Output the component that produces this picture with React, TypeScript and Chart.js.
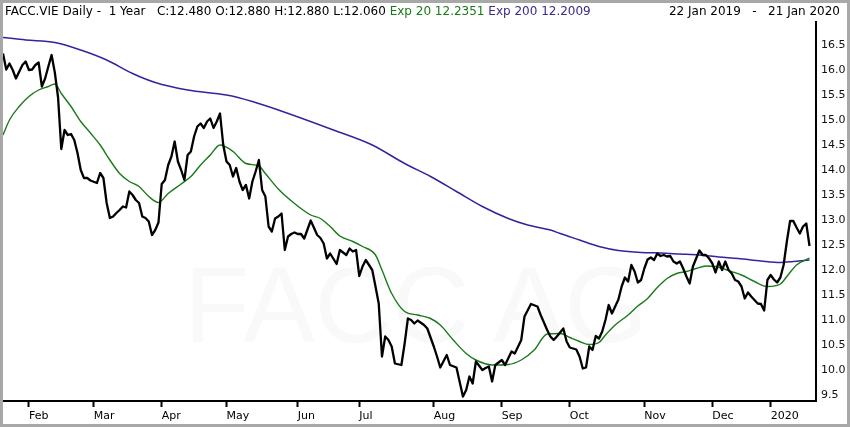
import React, { useEffect, useRef } from 'react';
import { Chart, registerables } from 'chart.js';

Chart.register(...registerables);

// ---- data (trading-day index since 22 Jan 2019) ----
const closeDays = [
  0, 1, 2, 3, 4, 6, 7, 8, 9, 10, 11, 12, 13, 14, 15, 16, 17, 18, 19, 20,
  21, 22, 23, 24, 25, 26, 27, 29, 30, 31, 32, 33, 34, 35, 36, 37, 38, 39, 40, 41,
  42, 43, 44, 45, 46, 47, 48, 49, 50, 51, 52, 53, 54, 55, 56, 57, 58, 59, 60, 61,
  62, 63, 64, 65, 66, 67, 68, 69, 70, 71, 72, 73, 74, 75, 76, 77, 78, 79, 80, 81,
  82, 83, 84, 85, 86, 87, 88, 89, 90, 91, 92, 93, 95, 97, 98, 99, 100, 101, 103, 104,
  106, 107, 108, 109, 110, 111, 112, 114, 115, 116, 117, 118, 119, 120, 121, 123, 124, 125, 126, 127,
  128, 130, 131, 133, 134, 135, 137, 138, 140, 142, 143, 144, 145, 146, 148, 149, 150, 151, 152, 154,
  155, 157, 158, 160, 161, 163, 165, 166, 168, 169, 170, 171, 173, 174, 175, 177, 178, 179, 180, 181,
  182, 183, 184, 185, 186, 187, 188, 189, 190, 191, 192, 193, 194, 195, 196, 197, 198, 199, 200, 201,
  202, 203, 204, 205, 206, 207, 208, 209, 210, 211, 212, 213, 214, 215, 216, 217, 218, 219, 220, 221,
  222, 223, 224, 225, 226, 227, 228, 229, 230, 231, 232, 233, 234, 235, 236, 237, 238, 239, 240, 241,
  242, 243, 244, 245, 246, 247, 248, 249,
];
const closeValues = [
  16.33, 16.01, 16.13, 16.0, 15.83, 16.1, 16.17, 16.0, 16.01, 16.1, 16.15, 15.67, 15.83, 16.07, 16.3, 15.95, 15.45, 14.42, 14.8, 14.7,
  14.72, 14.6, 14.34, 14.0, 13.84, 13.84, 13.79, 13.74, 13.94, 13.84, 13.34, 13.04, 13.07, 13.14, 13.2, 13.27, 13.25, 13.57, 13.5, 13.4,
  13.34, 13.07, 13.04, 12.97, 12.7, 12.8, 12.95, 13.72, 13.8, 14.1, 14.27, 14.57, 14.17, 14.0, 13.8, 14.3, 14.37, 14.67, 14.87, 14.93,
  14.84, 14.97, 15.03, 14.84, 14.97, 15.13, 14.5, 14.17, 14.1, 13.87, 14.04, 13.77, 13.6, 13.7, 13.43, 13.77, 13.97, 14.2, 13.6, 13.47,
  12.87, 12.77, 13.03, 13.07, 13.13, 12.4, 12.67, 12.72, 12.75, 12.72, 12.72, 12.63, 12.99, 12.7, 12.64, 12.53, 12.23, 12.33, 12.12, 12.4,
  12.3, 12.43, 12.37, 12.4, 11.88, 12.07, 12.2, 12.0, 11.67, 11.33, 10.27, 10.67, 10.6, 10.47, 10.13, 10.1, 10.53, 11.03, 11.0, 10.93,
  10.99, 10.9, 10.83, 10.47, 10.27, 10.05, 10.3, 10.1, 10.05, 9.47, 9.6, 9.87, 9.73, 10.17, 10.0, 10.04, 10.07, 9.77, 10.1, 10.2,
  10.1, 10.37, 10.33, 10.6, 11.07, 11.32, 11.27, 11.1, 10.8, 10.67, 10.6, 10.67, 10.83, 10.57, 10.45, 10.41, 10.27, 10.03, 10.05, 10.47,
  10.4, 10.68, 10.63, 10.77, 11.0, 11.3, 11.13, 11.27, 11.41, 11.67, 11.85, 11.77, 12.1, 11.97, 11.75, 11.8, 12.03, 12.21, 12.25, 12.2,
  12.33, 12.28, 12.3, 12.27, 12.28, 12.17, 12.13, 12.17, 12.03, 11.87, 11.73, 12.07, 12.23, 12.39, 12.3, 12.3, 12.23, 12.13, 11.95, 12.17,
  12.0, 12.17, 12.0, 11.93, 11.8, 11.77, 11.67, 11.43, 11.55, 11.47, 11.4, 11.33, 11.32, 11.19, 11.8, 11.9, 11.81, 11.75, 11.85, 12.1,
  12.57, 12.98, 12.98, 12.85, 12.73, 12.87, 12.93, 12.48,
];

const ema20Days = [
  0, 2, 5, 8, 11, 14, 16, 18, 21, 24, 27, 30, 33, 36, 39, 42, 45, 48, 51, 55,
  58, 61, 64, 67, 71, 75, 79, 81, 85, 90, 95, 98, 101, 104, 108, 111, 115, 117, 120, 124,
  128, 132, 135, 139, 143, 146, 151, 156, 160, 164, 168, 172, 175, 178, 181, 184, 186, 189, 193, 196,
  199, 202, 205, 208, 211, 214, 217, 220, 223, 228, 232, 236, 240, 242, 245, 249,
];
const ema20Values = [
  14.7, 15.0, 15.27, 15.47, 15.6, 15.67, 15.72, 15.53, 15.27, 14.97, 14.74, 14.5, 14.2, 13.93, 13.77, 13.67, 13.47, 13.35, 13.53, 13.72,
  13.87, 14.1, 14.3, 14.5, 14.37, 14.13, 14.08, 13.93, 13.62, 13.33, 13.1, 13.03, 12.87, 12.68, 12.57, 12.47, 12.3, 12.0, 11.53, 11.17,
  11.1, 11.03, 10.9, 10.6, 10.33, 10.2, 10.1, 10.11, 10.2, 10.4, 10.72, 10.73, 10.65, 10.57, 10.51, 10.55, 10.7, 10.9, 11.1, 11.28,
  11.43, 11.65, 11.83, 11.93, 11.97, 12.03, 12.08, 12.07, 12.01, 11.9, 11.77, 11.67, 11.72, 11.87, 12.1, 12.2351,
];

const ema200Days = [
  0, 7, 16, 24, 32, 40, 47, 57, 69, 77, 85, 102, 114, 124, 132, 140, 148, 156, 162, 169,
  172, 178, 184, 190, 197, 203, 209, 215, 221, 227, 234, 240, 244, 249,
];
const ema200Values = [
  16.65, 16.6, 16.55, 16.4, 16.2, 15.93, 15.75, 15.6, 15.5, 15.37, 15.2, 14.8, 14.5, 14.13, 13.87, 13.57, 13.27, 13.03, 12.9, 12.8,
  12.73, 12.6, 12.47, 12.39, 12.35, 12.34, 12.32, 12.3, 12.26, 12.23, 12.18, 12.15, 12.17, 12.2009,
];

const monthTickDays = [8, 28, 49, 69, 91, 110, 133, 154, 175, 198, 219, 237];
const monthLabels = ['Feb', 'Mar', 'Apr', 'May', 'Jun', 'Jul', 'Aug', 'Sep', 'Oct', 'Nov', 'Dec', '2020'];
const priceTicks = [9.5, 10.0, 10.5, 11.0, 11.5, 12.0, 12.5, 13.0, 13.5, 14.0, 14.5, 15.0, 15.5, 16.0, 16.5];

const symbol = 'FACC.VIE';
const lastOpen = 12.88;
const lastHigh = 12.88;
const lastLow = 12.06;
const dateRange = '22 Jan 2019   -   21 Jan 2020';
const watermark = 'FACC AG';

const FONT = '"DejaVu Sans", sans-serif';
const GREEN = '#1a7a1a';
const PURPLE = '#3c1f9e';

const toPoints = (days: number[], vals: number[]) => days.map((x, i) => ({ x, y: vals[i] }));

export default function App() {
  const ref = useRef<HTMLCanvasElement | null>(null);

  useEffect(() => {
    if (!ref.current) return;
    const chart = new Chart(ref.current, {
      type: 'line',
      data: {
        datasets: [
          {
            label: 'Close',
            data: toPoints(closeDays, closeValues),
            borderColor: '#000000',
            borderWidth: 2.3,
            pointRadius: 0,
            tension: 0,
            borderJoinStyle: 'round',
          },
          {
            label: 'Exp 20',
            data: toPoints(ema20Days, ema20Values),
            borderColor: GREEN,
            borderWidth: 1.4,
            pointRadius: 0,
            cubicInterpolationMode: 'monotone',
          },
          {
            label: 'Exp 200',
            data: toPoints(ema200Days, ema200Values),
            borderColor: PURPLE,
            borderWidth: 1.5,
            pointRadius: 0,
            cubicInterpolationMode: 'monotone',
          },
        ],
      },
      options: {
        responsive: false,
        animation: false,
        devicePixelRatio: 1,
        layout: { padding: { top: 22, left: 3, right: 0, bottom: 0 } },
        plugins: { legend: { display: false }, tooltip: { enabled: false } },
        events: [],
        scales: {
          x: {
            type: 'linear',
            position: 'bottom',
            min: 0,
            max: 251,
            afterBuildTicks: (scale: any) => {
              scale.ticks = monthTickDays.map((v) => ({ value: v }));
            },
            afterFit: (scale: any) => {
              scale.height = 26;
            },
            grid: {
              drawOnChartArea: false,
              drawTicks: true,
              tickLength: 6,
              tickWidth: 2,
              tickColor: '#000',
            },
            border: { display: true, color: '#000', width: 2 },
            ticks: {
              autoSkip: false,
              maxRotation: 0,
              minRotation: 0,
              align: 'start',
              padding: 3,
              color: '#000',
              font: { family: FONT, size: 11 },
              callback: (value: any) => {
                const i = monthTickDays.indexOf(Number(value));
                return i >= 0 ? monthLabels[i] : '';
              },
            },
          },
          y: {
            type: 'linear',
            position: 'right',
            min: 9.38,
            max: 16.96,
            afterBuildTicks: (scale: any) => {
              scale.ticks = priceTicks.map((v) => ({ value: v }));
            },
            afterFit: (scale: any) => {
              scale.width = 34;
            },
            grid: { drawOnChartArea: false, drawTicks: false },
            border: { display: true, color: '#000', width: 2 },
            ticks: {
              padding: 5,
              color: '#111',
              font: { family: FONT, size: 11 },
              callback: (value: any) => Number(value).toFixed(1),
            },
          },
        },
      },
    } as any);
    return () => chart.destroy();
  }, []);

  const lastClose = closeValues[closeValues.length - 1];
  const ema20Last = ema20Values[ema20Values.length - 1];
  const ema200Last = ema200Values[ema200Values.length - 1];
  const info = `${symbol} Daily -  1 Year   C:${lastClose.toFixed(3)} O:${lastOpen.toFixed(3)} H:${lastHigh.toFixed(3)} L:${lastLow.toFixed(3)} `;

  return (
    <div
      style={{
        position: 'absolute',
        left: 0,
        top: 0,
        width: 850,
        height: 427,
        background: '#ffffff',
        overflow: 'hidden',
      }}
    >
      <div
        style={{
          position: 'absolute',
          left: 184,
          top: 252,
          fontFamily: '"Liberation Sans", Arial, sans-serif',
          fontSize: 107,
          lineHeight: '107px',
          color: '#f9f9f9',
          whiteSpace: 'pre',
        }}
      >
        {watermark}
      </div>
      <canvas
        ref={ref}
        width={850}
        height={427}
        style={{ position: 'absolute', left: 0, top: 0, display: 'block' }}
      />
      <div
        style={{
          position: 'absolute',
          left: 5,
          top: 4,
          fontFamily: FONT,
          fontSize: 12,
          lineHeight: '14px',
          color: '#000',
          whiteSpace: 'pre',
        }}
      >
        <span>{info}</span>
        <span style={{ color: GREEN }}>{`Exp 20 ${ema20Last.toFixed(4)} `}</span>
        <span style={{ color: '#3b2a8a' }}>{`Exp 200 ${ema200Last.toFixed(4)}`}</span>
      </div>
      <div
        style={{
          position: 'absolute',
          right: 10,
          top: 4,
          fontFamily: FONT,
          fontSize: 12,
          lineHeight: '14px',
          color: '#000',
          whiteSpace: 'pre',
        }}
      >
        {dateRange}
      </div>
      <div
        style={{
          position: 'absolute',
          left: 0,
          top: 0,
          width: 850,
          height: 427,
          boxSizing: 'border-box',
          border: '3px solid #a8a8a8',
          pointerEvents: 'none',
        }}
      />
    </div>
  );
}
